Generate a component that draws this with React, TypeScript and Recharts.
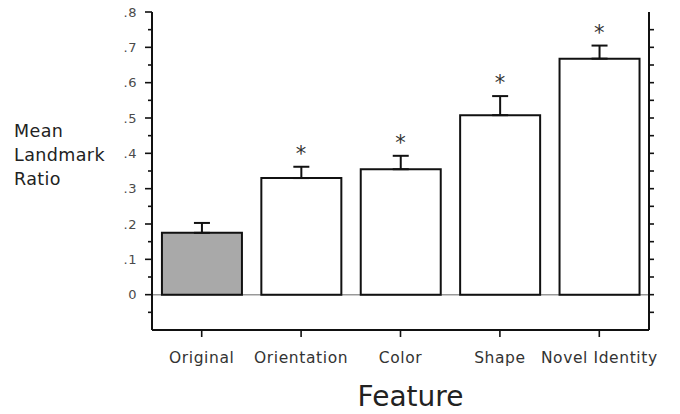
import React from 'react';
import {
  ComposedChart,
  Bar,
  Cell,
  ErrorBar,
  Line,
  XAxis,
  YAxis,
  CartesianGrid,
} from 'recharts';

const categories = ['Original', 'Orientation', 'Color', 'Shape', 'Novel Identity'];
const means = [0.175, 0.33, 0.355, 0.508, 0.668];
const errors = [0.028, 0.032, 0.038, 0.054, 0.037];
const significant = [false, true, true, true, true];
const yTicks = [-0.05, 0, 0.05, 0.1, 0.15, 0.2, 0.25, 0.3, 0.35, 0.4, 0.45, 0.5, 0.55, 0.6, 0.65, 0.7, 0.75, 0.8];
const yTickLabels: Record<string, string> = {
  '0': '0', '0.1': '.1', '0.2': '.2', '0.3': '.3', '0.4': '.4',
  '0.5': '.5', '0.6': '.6', '0.7': '.7', '0.8': '.8',
};
const yLabelLines = ['Mean', 'Landmark', 'Ratio'];
const xTitle = 'Feature';

const data = categories.map((c, i) => ({
  name: c,
  mean: means[i],
  errRange: [0, errors[i]],
  sigTop: significant[i] ? means[i] + errors[i] : null,
}));

const FONT = '"DejaVu Sans", Verdana, sans-serif';

const LeftTick = (props: any) => {
  const { x, y, payload } = props;
  const key = String(Math.round(payload.value * 100) / 100);
  const label = yTickLabels[key];
  const major = label !== undefined;
  return (
    <g>
      <line x1={x - (major ? 7 : 4)} x2={x} y1={y} y2={y} stroke="#111" strokeWidth={1.6} />
      {major && (
        <text x={x - 15} y={y} dy="0.36em" textAnchor="end" fontSize={13} fill="#4a4a4a" fontFamily={FONT} letterSpacing={0.5}>
          {label}
        </text>
      )}
    </g>
  );
};

const RightTick = (props: any) => {
  const { x, y, payload } = props;
  if (payload.value >= 0.8) return null;
  return <line x1={x} x2={x + 5} y1={y} y2={y} stroke="#111" strokeWidth={1.6} />;
};

const TopTick = (props: any) => {
  const { x, y } = props;
  return <line x1={x} x2={x} y1={y - 7} y2={y} stroke="#111" strokeWidth={1.6} />;
};

const BottomTick = (props: any) => {
  const { x, y, payload } = props;
  return (
    <g>
      <line x1={x} x2={x} y1={y} y2={y + 7} stroke="#111" strokeWidth={1.6} />
      <text x={x} y={y + 33} textAnchor="middle" fontSize={15.5} fill="#333" fontFamily={FONT} letterSpacing={0.6}>
        {payload.value}
      </text>
    </g>
  );
};

const StarDot = (props: any) => {
  const { cx, cy, payload } = props;
  if (payload == null || payload.sigTop == null || cy == null || isNaN(cy)) return null;
  return (
    <text key={payload.name} x={cx} y={cy - 6} textAnchor="middle" fontSize={21} fill="#333" fontFamily={FONT}>
      *
    </text>
  );
};

const YTitle = () => (
  <text x={14} y={137} fontSize={17.5} fill="#222" fontFamily={FONT} letterSpacing={0.4}>
    {yLabelLines.map((l, i) => (
      <tspan key={l} x={14} dy={i === 0 ? 0 : 24}>
        {l}
      </tspan>
    ))}
  </text>
);

export default function App() {
  return (
    <div style={{ position: 'absolute', left: 0, top: 0, width: 680, height: 414, background: '#fff' }}>
      <ComposedChart
        width={680}
        height={414}
        data={data}
        margin={{ top: 12, right: 0, bottom: 0, left: 0 }}
        barCategoryGap="10%"
      >
        <CartesianGrid
          xAxisId="bottom"
          yAxisId="left"
          vertical={false}
          horizontalValues={[0]}
          stroke="#999"
          strokeWidth={1.5}
        />
        <XAxis
          xAxisId="bottom"
          dataKey="name"
          height={84}
          interval={0}
          axisLine={{ stroke: '#111', strokeWidth: 2 }}
          tickLine={false}
          tickSize={0}
          tickMargin={0}
          tick={BottomTick}
          label={{
            value: xTitle,
            position: 'insideBottom',
            offset: 8,
            dx: 10,
            fontSize: 28,
            fill: '#222',
            fontFamily: FONT,
          }}
        />
        <XAxis
          xAxisId="top"
          dataKey="name"
          orientation="top"
          height={0}
          interval={0}
          axisLine={{ stroke: '#111', strokeWidth: 2 }}
          tickLine={false}
          tickSize={0}
          tickMargin={0}
          tick={TopTick}
        />
        <YAxis
          yAxisId="left"
          width={152}
          domain={[-0.1, 0.8]}
          ticks={yTicks}
          interval={0}
          type="number"
          allowDataOverflow
          axisLine={{ stroke: '#111', strokeWidth: 2 }}
          tickLine={false}
          tickSize={0}
          tickMargin={0}
          tick={LeftTick}
          label={{ content: YTitle }}
        />
        <YAxis
          yAxisId="right"
          orientation="right"
          width={31}
          domain={[-0.1, 0.8]}
          ticks={yTicks}
          interval={0}
          type="number"
          allowDataOverflow
          axisLine={{ stroke: '#111', strokeWidth: 2 }}
          tickLine={false}
          tickSize={0}
          tickMargin={0}
          tick={RightTick}
        />
        <Bar
          xAxisId="bottom"
          yAxisId="left"
          dataKey="mean"
          stroke="#111"
          strokeWidth={2}
          isAnimationActive={false}
        >
          {data.map((d, i) => (
            <Cell key={d.name} fill={i === 0 ? '#a9a9a9' : '#ffffff'} />
          ))}
          <ErrorBar dataKey="errRange" width={8} stroke="#111" strokeWidth={2} isAnimationActive={false} />
        </Bar>
        <Line
          xAxisId="bottom"
          yAxisId="left"
          dataKey="sigTop"
          stroke="none"
          dot={StarDot}
          activeDot={false}
          isAnimationActive={false}
          legendType="none"
        />
      </ComposedChart>
    </div>
  );
}
